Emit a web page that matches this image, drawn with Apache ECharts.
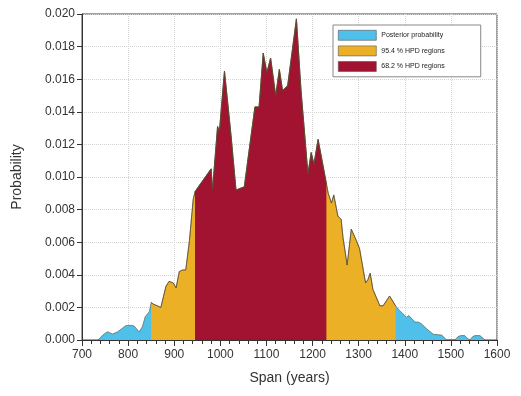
<!DOCTYPE html>
<head>
    <meta charset="utf-8">
    <title>ECharts</title>
    <style>
        html, body { margin: 0; padding: 0; background: #fff; }
        #main { width: 521px; height: 396px; }
    </style>
</head>
<body>
<div id="main"></div>

<script src="https://cdn.jsdelivr.net/npm/echarts@6/dist/echarts.min.js"></script>
<script type="text/javascript">
    // span (years) and posterior probability
    var span = [735, 745, 755, 766, 777, 781, 795, 806, 813, 824, 831, 837, 846, 850,
        855, 871, 882, 889, 898, 904, 911, 918, 925, 933, 941, 945,
        980, 983, 994, 998, 1009, 1023, 1034, 1052, 1059, 1063, 1075, 1084, 1093, 1101,
        1109, 1120, 1128, 1135, 1146, 1165, 1175, 1190, 1197, 1203, 1212, 1215, 1230,
        1234, 1241, 1246, 1249, 1255, 1262, 1266, 1275, 1284, 1295, 1302, 1315, 1320,
        1325, 1331, 1346, 1353, 1367, 1371, 1380,
        1389, 1404, 1409, 1422, 1429, 1436, 1447, 1462, 1480, 1491, 1509, 1515, 1521,
        1530, 1536, 1541, 1547, 1552, 1563, 1574];
    var prob = [0, 0.0003, 0.00051, 0.00037, 0.0005, 0.00045, 0.00088, 0.0009, 0.00086, 0.0005, 0.00082, 0.00143, 0.00174, 0.0023,
        0.0022, 0.002, 0.0033, 0.0036, 0.0035, 0.0032, 0.0042, 0.0043, 0.0043, 0.0061, 0.0086, 0.0091,
        0.0105, 0.0092, 0.0131, 0.0128, 0.0165, 0.0126, 0.0092, 0.0094, 0.0109, 0.011, 0.0143, 0.0143, 0.0176, 0.0164,
        0.0173, 0.015, 0.0166, 0.0153, 0.0156, 0.0197, 0.0153, 0.0102, 0.0115, 0.0108, 0.0123, 0.0122, 0.0096,
        0.009, 0.0084, 0.0089, 0.0088, 0.0076, 0.0074, 0.0063, 0.0046, 0.0068, 0.0061, 0.0056, 0.0035, 0.0037,
        0.0041, 0.0031, 0.0021, 0.0021, 0.0027, 0.0026, 0.0021,
        0.0018, 0.0014, 0.0015, 0.0011, 0.0011, 0.001, 0.0007, 0.00035, 0.0003, 0, 0, 0.0002, 0.00027,
        0.00027, 0.0001, 0, 0.0002, 0.00027, 0.00027, 0];

    var names = ['Posterior probability', '95.4 % HPD regions', '68.2 % HPD regions'];
    var ranges = [[700, 1600], [850, 1380], [945, 1230]];
    var colors = ['#4fc0ea', '#ebb026', '#a11331'];

    function pick(r) {
        var out = [];
        for (var i = 0; i < span.length; i++) {
            if (span[i] >= r[0] && span[i] <= r[1]) out.push([span[i], prob[i]]);
        }
        return out;
    }

    var font = 'Liberation Sans, Arial, sans-serif';
    var series = names.map(function (n, i) {
        return {
            name: n,
            type: 'line',
            data: pick(ranges[i]),
            showSymbol: false,
            symbol: 'none',
            color: colors[i],
            lineStyle: { color: '#5a4a30', width: 0.6 },
            areaStyle: { color: colors[i], opacity: 1 },
            itemStyle: { color: colors[i] }
        };
    });

    var chart = echarts.init(document.getElementById('main'));
    chart.setOption({
        animation: false,
        backgroundColor: '#fff',
        grid: { left: 82, right: 24, top: 14, bottom: 56, show: true, borderColor: '#444', borderWidth: 1 },
        legend: {
            data: names,
            orient: 'vertical',
            left: 333,
            top: 25,
            icon: 'rect',
            itemWidth: 38,
            itemHeight: 10,
            itemGap: 5,
            padding: [5, 36, 5, 5],
            backgroundColor: '#fff',
            borderColor: '#888',
            borderWidth: 1,
            itemStyle: { borderColor: '#555', borderWidth: 0.6 },
            textStyle: { fontSize: 7, color: '#222', fontFamily: font }
        },
        xAxis: {
            type: 'value',
            min: 700,
            max: 1600,
            interval: 100,
            name: 'Span (years)',
            nameLocation: 'middle',
            nameGap: 31,
            nameTextStyle: { fontSize: 14, color: '#333', fontFamily: font },
            axisLine: { lineStyle: { color: '#333' } },
            axisTick: { length: 6, lineStyle: { color: '#333' } },
            minorTick: { show: true, splitNumber: 5, length: 4, lineStyle: { color: '#333' } },
            axisLabel: {
                fontSize: 12, color: '#333', margin: 9, fontFamily: font,
                formatter: function (v) { return String(v); }
            },
            splitLine: { show: true, lineStyle: { color: '#d4d4d4', type: 'dotted' } }
        },
        yAxis: {
            type: 'value',
            min: 0,
            max: 0.02,
            interval: 0.002,
            name: 'Probability',
            nameLocation: 'middle',
            nameGap: 58,
            nameTextStyle: { fontSize: 14, color: '#333', fontFamily: font },
            axisLine: { show: true, lineStyle: { color: '#333' } },
            axisTick: { show: true, length: 5, lineStyle: { color: '#333' } },
            axisLabel: {
                fontSize: 12, color: '#333', margin: 7, fontFamily: font,
                formatter: function (v) { return v.toFixed(3); }
            },
            splitLine: { show: true, lineStyle: { color: '#d4d4d4', type: 'dotted' } }
        },
        series: series
    });
</script>
</body>
